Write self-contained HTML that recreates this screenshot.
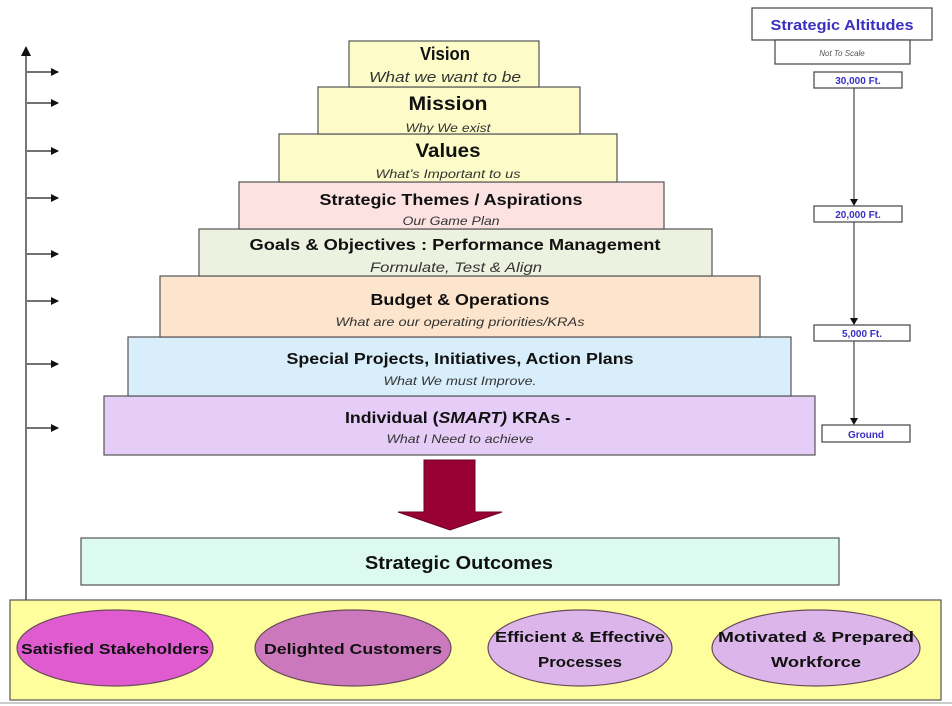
<!DOCTYPE html>
<html><head><meta charset="utf-8"><style>
html,body{margin:0;padding:0;background:#fff;}
svg{display:block;font-family:"Liberation Sans",sans-serif;}
.t{font-weight:bold;fill:#111;}
.s{font-style:italic;fill:#333;}
.a{font-weight:bold;fill:#3a2fc0;}
</style></head><body>
<svg width="952" height="706" viewBox="0 0 952 706" xmlns="http://www.w3.org/2000/svg">
<defs>
<marker id="ah" markerWidth="8" markerHeight="8" refX="7" refY="4" orient="auto" markerUnits="userSpaceOnUse"><path d="M0,0 L8,4 L0,8 z" fill="#111"/></marker>
</defs>
<rect x="0" y="0" width="952" height="706" fill="#fff"/>
<line x1="0" y1="703" x2="952" y2="703" stroke="#ccc" stroke-width="2"/>
<!-- left axis -->
<line x1="26" y1="600" x2="26" y2="52" stroke="#777" stroke-width="2"/>
<path d="M21,56 L26,46 L31,56 z" fill="#111"/>
<g stroke="#444" stroke-width="1.5" marker-end="url(#ah)">
<line x1="27" y1="72" x2="58" y2="72"/>
<line x1="27" y1="103" x2="58" y2="103"/>
<line x1="27" y1="151" x2="58" y2="151"/>
<line x1="27" y1="198" x2="58" y2="198"/>
<line x1="27" y1="254" x2="58" y2="254"/>
<line x1="27" y1="301" x2="58" y2="301"/>
<line x1="27" y1="364" x2="58" y2="364"/>
<line x1="27" y1="428" x2="58" y2="428"/>
</g>
<!-- pyramid -->
<g stroke="#555" stroke-width="1.2">
<rect x="104" y="396" width="711" height="59" fill="#e6cdf7"/>
<rect x="128" y="337" width="663" height="59" fill="#d9eefb"/>
<rect x="160" y="276" width="600" height="61" fill="#fde4cc"/>
<rect x="199" y="229" width="513" height="47" fill="#ecf1e0"/>
<rect x="239" y="182" width="425" height="47" fill="#fde2e2"/>
<rect x="279" y="134" width="338" height="48" fill="#fdfcc8"/>
<rect x="318" y="87" width="262" height="47" fill="#fdfcc8"/>
<rect x="349" y="41" width="190" height="46" fill="#fdfcc8"/>
</g>
<g text-anchor="middle">
<text class="t" x="445" y="60" font-size="18" textLength="50" lengthAdjust="spacingAndGlyphs">Vision</text>
<text class="s" x="445" y="82" font-size="15" textLength="152" lengthAdjust="spacingAndGlyphs">What we want to be</text>
<text class="t" x="448" y="110" font-size="19" textLength="79" lengthAdjust="spacingAndGlyphs">Mission</text>
<text class="s" x="448" y="132" font-size="12" textLength="85" lengthAdjust="spacingAndGlyphs">Why We exist</text>
<text class="t" x="448" y="157" font-size="19" textLength="65" lengthAdjust="spacingAndGlyphs">Values</text>
<text class="s" x="448" y="178" font-size="12" textLength="145" lengthAdjust="spacingAndGlyphs">What’s Important to us</text>
<text class="t" x="451" y="205" font-size="16" textLength="263" lengthAdjust="spacingAndGlyphs">Strategic Themes / Aspirations</text>
<text class="s" x="451" y="225" font-size="12" textLength="97" lengthAdjust="spacingAndGlyphs">Our Game Plan</text>
<text class="t" x="455" y="250" font-size="16" textLength="411" lengthAdjust="spacingAndGlyphs">Goals &amp; Objectives : Performance Management</text>
<text class="s" x="456" y="272" font-size="14" textLength="172" lengthAdjust="spacingAndGlyphs">Formulate, Test &amp; Align</text>
<text class="t" x="460" y="305" font-size="16" textLength="179" lengthAdjust="spacingAndGlyphs">Budget &amp; Operations</text>
<text class="s" x="460" y="326" font-size="12" textLength="249" lengthAdjust="spacingAndGlyphs">What are our operating priorities/KRAs</text>
<text class="t" x="460" y="364" font-size="16" textLength="347" lengthAdjust="spacingAndGlyphs">Special Projects, Initiatives, Action Plans</text>
<text class="s" x="460" y="385" font-size="12" textLength="153" lengthAdjust="spacingAndGlyphs">What We must Improve.</text>
<text class="t" x="458" y="423" font-size="16" textLength="226" lengthAdjust="spacingAndGlyphs">Individual (<tspan font-style="italic">SMART)</tspan> KRAs -</text>
<text class="s" x="460" y="443" font-size="12" textLength="147" lengthAdjust="spacingAndGlyphs">What I Need to achieve</text>
</g>
<!-- big arrow -->
<path d="M424,460 L475,460 L475,512 L502,512 L450,530 L398,512 L424,512 z" fill="#990033" stroke="#6a0022" stroke-width="1"/>
<!-- strategic outcomes -->
<rect x="81" y="538" width="758" height="47" fill="#dcfaef" stroke="#555" stroke-width="1.2"/>
<text class="t" x="459" y="569" font-size="18" text-anchor="middle" textLength="188" lengthAdjust="spacingAndGlyphs">Strategic Outcomes</text>
<!-- bottom -->
<rect x="10" y="600" width="931" height="100" fill="#fefe9c" stroke="#555" stroke-width="1.2"/>
<g stroke="#6a4a5a" stroke-width="1.2">
<ellipse cx="115" cy="648" rx="98" ry="38" fill="#e05bd0"/>
<ellipse cx="353" cy="648" rx="98" ry="38" fill="#cc78bd"/>
<ellipse cx="580" cy="648" rx="92" ry="38" fill="#dcb6ea"/>
<ellipse cx="816" cy="648" rx="104" ry="38" fill="#dcb6ea"/>
</g>
<g class="t" font-size="15" text-anchor="middle" style="font-weight:bold" fill="#222">
<text x="115" y="654" textLength="188" lengthAdjust="spacingAndGlyphs">Satisfied Stakeholders</text>
<text x="353" y="654" textLength="178" lengthAdjust="spacingAndGlyphs">Delighted Customers</text>
<text x="580" y="642" textLength="170" lengthAdjust="spacingAndGlyphs">Efficient &amp; Effective</text>
<text x="580" y="667" textLength="84" lengthAdjust="spacingAndGlyphs">Processes</text>
<text x="816" y="642" textLength="196" lengthAdjust="spacingAndGlyphs">Motivated &amp; Prepared</text>
<text x="816" y="667" textLength="90" lengthAdjust="spacingAndGlyphs">Workforce</text>
</g>
<!-- altitudes -->
<rect x="752" y="8" width="180" height="32" fill="#fff" stroke="#444" stroke-width="1.2"/>
<text class="a" x="842" y="30" font-size="15" text-anchor="middle" textLength="143" lengthAdjust="spacingAndGlyphs">Strategic Altitudes</text>
<rect x="775" y="40" width="135" height="24" fill="#fff" stroke="#444" stroke-width="1.2"/>
<text x="842" y="56" font-size="8" font-style="italic" fill="#555" text-anchor="middle">Not To Scale</text>
<g stroke="#444" stroke-width="1.2">
<line x1="854" y1="88" x2="854" y2="200"/>
<line x1="854" y1="222" x2="854" y2="319"/>
<line x1="854" y1="341" x2="854" y2="419"/>
</g>
<g fill="#111">
<path d="M850,199 L858,199 L854,206 z"/>
<path d="M850,318 L858,318 L854,325 z"/>
<path d="M850,418 L858,418 L854,425 z"/>
</g>
<g fill="#fff" stroke="#444" stroke-width="1.2">
<rect x="814" y="72" width="88" height="16"/>
<rect x="814" y="206" width="88" height="16"/>
<rect x="814" y="325" width="96" height="16"/>
<rect x="822" y="425" width="88" height="17"/>
</g>
<g class="a" font-size="10" text-anchor="middle">
<text x="858" y="84">30,000 Ft.</text>
<text x="858" y="218">20,000 Ft.</text>
<text x="862" y="337">5,000 Ft.</text>
<text x="866" y="438">Ground</text>
</g>
</svg>
</body></html>
